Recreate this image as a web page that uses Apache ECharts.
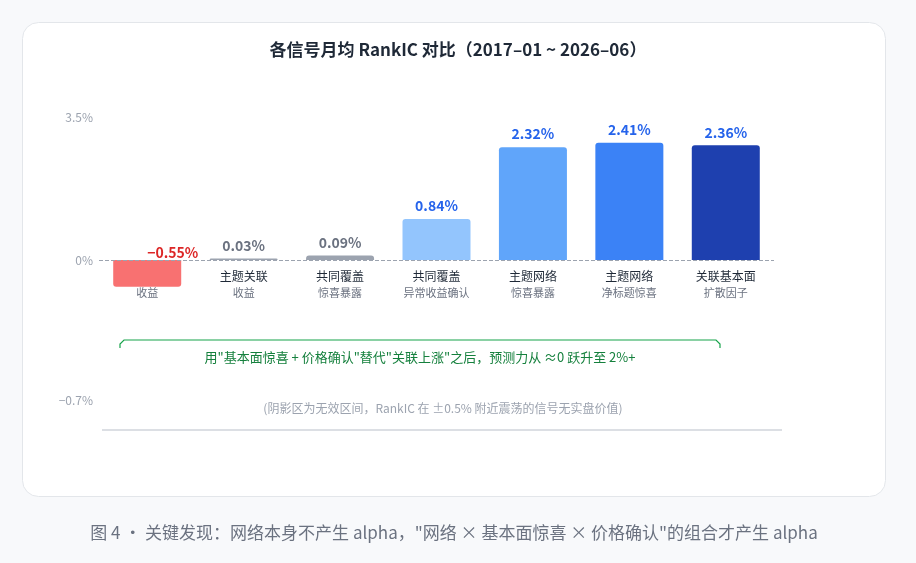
<!DOCTYPE html>
<html><head><meta charset="utf-8">
<script src="https://cdn.jsdelivr.net/npm/echarts@6/dist/echarts.min.js"></script>
<style>
html,body{margin:0;padding:0;background:#f8f9fb;}
#main{width:916px;height:563px;}
</style></head>
<body><div id="main"></div>
<script>
// 各信号月均 RankIC（%）
var names = ['SC 关联', '主题关联', '共同覆盖', '共同覆盖', '主题网络', '主题网络', '关联基本面'];
var subNames = ['收益', '收益', '惊喜暴露', '异常收益确认', '惊喜暴露', '净标题惊喜', '扩散因子'];
var values = [-0.55, 0.03, 0.09, 0.84, 2.32, 2.41, 2.36];
var barColors = ['#f87171', '#9ca3af', '#9ca3af', '#93c5fd', '#60a5fa', '#3b82f6', '#1e40af'];
var labelColors = ['#dc2626', '#6b7280', '#6b7280', '#2563eb', '#2563eb', '#2563eb', '#2563eb'];
var tickLabels = [['3.5%', 117], ['0%', 260], ['−0.7%', 400]];

var chart = echarts.init(document.getElementById('main'));
var font = '"Noto Sans CJK SC", "Noto Sans", sans-serif';

var seriesData = values.map(function (v, i) {
	return {
		value: v,
		itemStyle: {color: barColors[i], borderRadius: v < 0 ? [0, 0, 3, 3] : [3, 3, 0, 0]},
		label: {color: labelColors[i]}
	};
});

var graphics = [
	{type: 'rect', shape: {x: 22.5, y: 22.5, width: 863, height: 474, r: 16}, style: {fill: '#fff', stroke: '#e3e6ea', lineWidth: 1}, z: -10},
	{type: 'line', shape: {x1: 102, y1: 430, x2: 782, y2: 430}, style: {stroke: '#d1d5db', lineWidth: 1.5}},
	{type: 'polyline', shape: {points: [[120, 348], [120, 344], [124, 340], [716, 340], [720, 344], [720, 348]]}, style: {stroke: '#16a34a', lineWidth: 1.2, fill: null}},
	{type: 'text', x: 420, y: 357, style: {text: '用"基本面惊喜 + 价格确认"替代"关联上涨"之后，预测力从 ≈0 跃升至 2%+', fill: '#15803d', font: '13px ' + font, align: 'center', verticalAlign: 'middle'}},
	{type: 'text', x: 443, y: 408, style: {text: '(阴影区为无效区间，RankIC 在 ±0.5% 附近震荡的信号无实盘价值)', fill: '#9ca3af', font: '12px ' + font, align: 'center', verticalAlign: 'middle'}},
	{type: 'text', x: 454, y: 533, style: {text: '图 4 · 关键发现：网络本身不产生 alpha，"网络 × 基本面惊喜 × 价格确认"的组合才产生 alpha', fill: '#6b7280', font: '17px ' + font, align: 'center', verticalAlign: 'middle'}}
];
tickLabels.forEach(function (t) {
	graphics.push({type: 'text', x: 93, y: t[1], style: {text: t[0], fill: '#9ca3af', font: '12px ' + font, align: 'right', verticalAlign: 'middle'}});
});

chart.setOption({
	animation: false,
	title: {
		text: '各信号月均 RankIC 对比（2017–01 ~ 2026–06）',
		left: 'center', top: 36,
		textStyle: {fontSize: 17, fontWeight: 'bold', color: '#1f2937', fontFamily: font}
	},
	graphic: graphics,
	grid: {left: 99, right: 142, top: 117, bottom: 163},
	xAxis: {
		type: 'category',
		data: names,
		position: 'bottom',
		offset: -133,
		axisLine: {show: false},
		axisTick: {show: false},
		axisLabel: {
			interval: 0,
			margin: 0,
			formatter: function (v, i) { return '{a|' + v + '}\n{b|' + subNames[i] + '}'; },
			rich: {
				a: {fontSize: 12, color: '#1f2937', fontFamily: font, lineHeight: 18},
				b: {fontSize: 11, color: '#6b7280', fontFamily: font, lineHeight: 16}
			}
		}
	},
	yAxis: {
		type: 'value', min: -2.88, max: 2.94,
		axisLabel: {show: false}, splitLine: {show: false}, axisLine: {show: false}, axisTick: {show: false}
	},
	series: [{
		type: 'bar',
		data: seriesData,
		barWidth: 68,
		label: {
			show: true,
			position: 'top',
			distance: 6,
			fontSize: 14, fontWeight: 'bold', fontFamily: font,
			formatter: function (p) {
				return (p.value < 0 ? '−' + Math.abs(p.value).toFixed(2) : p.value.toFixed(2)) + '%';
			}
		},
		labelLayout: function (p) {
			if (p.dataIndex === 0) return {y: p.rect.y - 14};
		},
		markLine: {
			silent: true, symbol: 'none',
			lineStyle: {type: 'dashed', color: '#9ca3af', width: 1},
			label: {show: false},
			data: [{yAxis: 0}]
		}
	}]
});
</script>
</body></html>
